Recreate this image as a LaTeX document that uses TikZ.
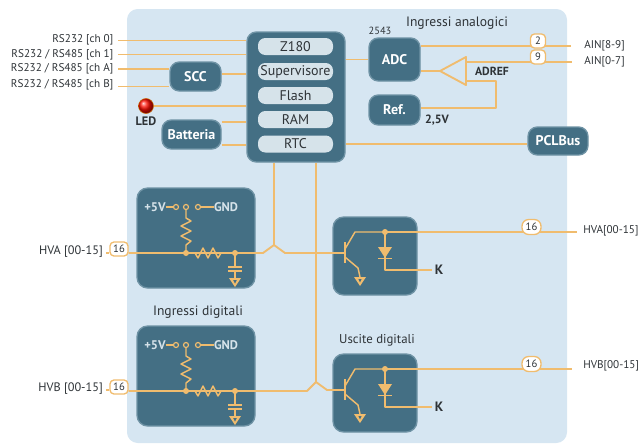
\documentclass[tikz,border=0pt]{standalone}
\usepackage{fontspec}
\setmainfont{PT Sans}
\definecolor{panel}{HTML}{D6E6F2}
\definecolor{dark}{HTML}{446F84}
\definecolor{darkedge}{HTML}{6F93A5}
\definecolor{pill}{HTML}{D6E3EA}
\definecolor{wire}{HTML}{F0BC6E}
\definecolor{ink}{HTML}{2E3337}
\def\px{0.75pt}
\tikzset{
  block/.style={fill=dark,draw=darkedge,line width=1pt,rounded corners=7pt,inner sep=0pt,text=white,font=\fontsize{10.5}{11}\selectfont\bfseries},
  circbox/.style={fill=dark,draw=darkedge,line width=1pt,rounded corners=8pt,inner sep=0pt},
  pillbox/.style={fill=pill,rounded corners=5.5pt,inner sep=0pt,text=ink,minimum width=75*\px,minimum height=17*\px,font=\fontsize{10.5}{11}\selectfont},
  wireline/.style={draw=wire,line width=1.4pt,line join=round},
  thin wire/.style={draw=wire,line width=1.1pt,line join=round},
  lbl/.style={text=ink,inner sep=0pt,font=\fontsize{8.4}{9}\selectfont},
  head/.style={text=ink,inner sep=0pt,font=\fontsize{10.2}{11}\selectfont},
  circlbl/.style={text=pill,inner sep=0pt,font=\fontsize{9.4}{10}\selectfont\bfseries},
  tag/.style={fill=white,draw=wire,line width=1pt,rounded corners=3pt,inner sep=0pt,text=ink,minimum width=18*\px,minimum height=14*\px,font=\fontsize{8}{8}\selectfont},
  dotj/.style={circle,fill=wire,inner sep=0pt,minimum size=6*\px},
  ring/.style={circle,draw=wire,line width=0.9pt,fill=dark,inner sep=0pt,minimum size=5*\px},
}
\newcommand{\inputcirc}[2]{%
\begin{scope}[shift={(0,#2)}]
  \node[circbox,minimum width=118*\px,minimum height=100*\px] (box#1) at (196,238) {};
  \node[circlbl] (pv#1) at (155,207) {+5V};
  \node[circlbl] (gnd#1) at (226,207) {GND};
  \node[ring] (ra#1) at (176,207) {};
  \node[ring] (rb#1) at (186,207) {};
  \node[ring] (rc#1) at (198,207) {};
  \coordinate (j#1) at (186,253);
  \coordinate (k#1) at (235,253);
  \draw[thin wire] (pv#1.east) -- (ra#1);
  \draw[thin wire] (rc#1) -- (gnd#1.west);
  \draw[thin wire] (rb#1) -- (186,218) -- (191,221) -- (181,226) -- (191,231) -- (181,236) -- (191,241) -- (186,245) -- (j#1);
  \draw[thin wire] (j#1) -- (195,253) -- (198,258) -- (203,248) -- (208,258) -- (213,248) -- (218,258) -- (221,253) -- (k#1);
  \draw[thin wire] (k#1) -- (235,267);
  \draw[wire,line width=1.4pt] (228,267) -- (242,267) (228,271) -- (242,271);
  \draw[thin wire] (235,271) -- (235,278);
  \fill[wire] (229,278) -- (241,278) -- (235,287) -- cycle;
  \fill[dark] (233.2,280) -- (236.8,280) -- (235,283.5) -- cycle;
  \node[dotj] (jd#1) at (j#1) {};
  \node[dotj] (kd#1) at (k#1) {};
\end{scope}}
\newcommand{\outputcirc}[2]{%
\begin{scope}[shift={(0,#2)}]
  \node[circbox,minimum width=84*\px,minimum height=78*\px] (obox#1) at (375,256) {};
  \coordinate (bar#1) at (345,253);
  \coordinate (top#1) at (385,232);
  \coordinate (col#1) at (355,232);
  \draw[wire,line width=1.7pt] (345,242) -- (345,263);
  \draw[thin wire] (345,249) -- (col#1) -- (top#1);
  \draw[thin wire] (345,257) -- (358,268) -- (360,277);
  \fill[wire] (354,277) -- (366,277) -- (360,286) -- cycle;
  \fill[dark] (358.4,279) -- (361.6,279) -- (360,282.5) -- cycle;
  \draw[thin wire] (top#1) -- (385,270) -- (432,270);
  \fill[wire] (378,247) -- (392,247) -- (385,258) -- cycle;
  \draw[wire,line width=1.4pt] (378,258.5) -- (392,258.5);
  \node[dotj] (td#1) at (top#1) {};
  \node[head] (k#1lab) at (439,270) {\bfseries K};
\end{scope}}
\begin{document}
\begin{tikzpicture}[x=0.75pt,y=-0.75pt]
\useasboundingbox (0,0) rectangle (641,447);
\fill[panel,rounded corners=8pt] (127,9) rectangle (567,443);

% main block and pills
\node[block,minimum width=98*\px,minimum height=130*\px] (main) at (296,97) {};
\node[pillbox] (z180) at (295.5,46.5) {Z180};
\node[pillbox] (sup) at (295.5,71.5) {Supervisore};
\node[pillbox] (flash) at (295.5,95.5) {Flash};
\node[pillbox] (ram) at (295.5,119.5) {RAM};
\node[pillbox] (rtc) at (295.5,144) {RTC};

\node[block,minimum width=51*\px,minimum height=29*\px] (scc) at (195.5,76.5) {SCC};
\node[block,minimum width=59*\px,minimum height=29*\px] (batt) at (191.5,134.5) {Batteria};
\node[block,minimum width=51*\px,minimum height=43*\px] (adc) at (394.5,59.5) {ADC};
\node[block,minimum width=51*\px,minimum height=30*\px] (ref) at (394.5,110) {Ref.};
\node[block,minimum width=60*\px,minimum height=28*\px] (pcl) at (558,141) {PCLBus};

% LED
\node[circle,minimum size=15*\px,inner sep=0pt,draw=orange!80!black,line width=0.4pt,ball color=red!90!orange] (led) at (146,106) {};
\node[head] (ledlab) at (146,121) {\fontsize{9.2}{10}\selectfont\bfseries LED};

% left labels
\node[lbl,anchor=east] (l0) at (113.5,40) {RS232 [ch 0]};
\node[lbl,anchor=east] (l1) at (113.5,54.5) {RS232 / RS485 [ch 1]};
\node[lbl,anchor=east] (la) at (113.5,69) {RS232 / RS485 [ch A]};
\node[lbl,anchor=east] (lb) at (113.5,84.5) {RS232 / RS485 [ch B]};
\draw[wireline] (118,40.5) -- (main.west |- 0,40.5);
\draw[wireline] (118,54.5) -- (main.west |- 0,54.5);
\draw[wireline] (118,69) -- (scc.west |- 0,69);
\draw[wireline] (118,86.5) -- (scc.west |- 0,86.5);
\draw[wireline] (scc.east |- 0,74) -- (main.west |- 0,74);
\draw[wireline] (led.east) -- (main.west |- led.east);
\draw[wireline] (batt.east |- 0,122) -- (main.west |- 0,122);
\draw[wireline] (batt.east |- 0,145) -- (main.west |- 0,145);

% analog section
\node[head] (anhead) at (457,23) {Ingressi analogici};
\node[lbl] (chip) at (380,31) {\fontsize{7.8}{8}\selectfont 2543};
\coordinate (ampTip) at (440,71);
\coordinate (ampTop) at (466,57);
\coordinate (ampBot) at (466,85);
\draw[wireline] (ampTip) -- (ampTop) -- (ampBot) -- cycle;
\node[lbl,anchor=west] (ain89) at (584,46) {AIN[8-9]};
\node[lbl,anchor=west] (ain07) at (584,62) {AIN[0-7]};
\draw[wireline] (main.east |- adc.west) -- (adc.west);
\draw[wireline] (adc.east |- ain89.west) ++(0,0) -- (571,46);
\draw[wireline] (466,62) -- (572,62);
\draw[wireline] (adc.east |- ampTip) -- (ampTip);
\draw[wireline] (466,81) -- (496,81) -- (496,108) -- (ref.east |- 0,108);
\node[tag,minimum width=15*\px,minimum height=14*\px] (t2) at (538,41) {2};
\node[tag,minimum width=15*\px,minimum height=14*\px] (t9) at (538,57) {9};
\node[lbl] (adref) at (492,71) {\fontsize{8.8}{9}\selectfont\bfseries ADREF};
\node[head] (vref) at (437,120) {\fontsize{9}{10}\selectfont\bfseries 2,5V};
\draw[wireline] (rtc.east -| main.east) -- (pcl.west |- rtc.east);

% circuit boxes
\inputcirc{A}{0}
\inputcirc{B}{138}
\outputcirc{A}{0}
\outputcirc{B}{137}

% digital wiring
\coordinate (hopA) at (274,245);
\coordinate (hopB) at (316,382);
\draw[wireline] (main.south -| hopA) -- (hopA);
\draw[wireline] (main.south -| hopB) -- (hopB);
\node[tag] (tagA) at (119,249) {16};
\node[tag] (tagB) at (119,387) {16};
\node[lbl,anchor=east] (hvaL) at (103,252) {\fontsize{9.2}{10}\selectfont HVA [00-15]};
\node[lbl,anchor=east] (hvbL) at (103,389) {\fontsize{9.2}{10}\selectfont HVB [00-15]};
\draw[wireline] (hvaL.east) ++(3,1) -- (tagA.west |- 0,253);
\draw[wireline] (hvbL.east) ++(3,1) -- (tagB.west |- 0,390);
\draw[wireline] (tagA.east |- 0,253) -- (263,253) -- (hopA) -- (285,253) -- (barA);
\draw[wireline] (tagB.east |- 0,391) -- (307,391) -- (hopB) -- (327,390) -- (barB);

\node[lbl,anchor=west] (hvaR) at (583,231) {HVA[00-15]};
\node[lbl,anchor=west] (hvbR) at (583,366) {HVB[00-15]};
\draw[wireline] (topA) -- (577,232);
\draw[wireline] (topB) -- (572,369);
\node[tag,minimum width=19*\px,minimum height=15*\px,rounded corners=5pt] (tagC) at (531.5,227) {16};
\node[tag,minimum width=19*\px,minimum height=15*\px,rounded corners=5pt] (tagD) at (531.5,364) {16};

\node[head] (dighead) at (198,312) {Ingressi digitali};
\node[head] (usc) at (377,340) {\fontsize{9.6}{10}\selectfont Uscite digitali};
\end{tikzpicture}
\end{document}
